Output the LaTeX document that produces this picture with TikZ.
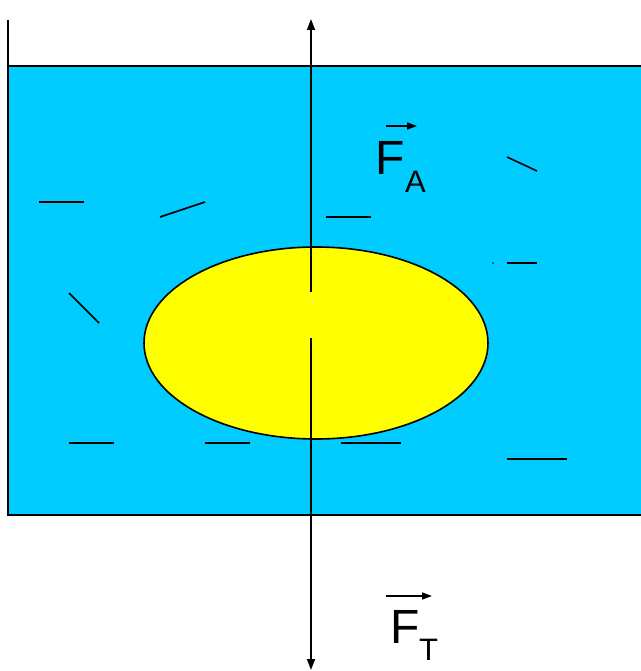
\documentclass[tikz,border=0pt]{standalone}
\usepackage{fontspec}
\setmainfont{Liberation Sans}
\usetikzlibrary{arrows.meta,shapes.geometric}
\definecolor{water}{HTML}{00CCFF}
\definecolor{body}{HTML}{FFFF00}
\begin{document}
\begin{tikzpicture}[x=1pt,y=-1pt,
  thin line/.style={line width=1.6pt},
  forcearrow/.style={line width=1.6pt,-{Triangle[length=11pt,width=8pt]}},
  vecarrow/.style={line width=1.6pt,-{Triangle[length=10pt,width=7pt]}},
  bigF/.style={inner sep=0pt,anchor=base west,font=\fontsize{48}{48}\selectfont},
  subl/.style={inner sep=0pt,anchor=base west,font=\fontsize{31}{31}\selectfont}]
\useasboundingbox (0,0) rectangle (640,671);
% water
\fill[water] (8,66) rectangle (641,515);
\draw[thin line] (8,20) -- (8,515) -- (641,515);
\draw[thin line] (8,66) -- (641,66);
% body
\node[draw,fill=body,ellipse,line width=1.6pt,minimum width=344pt,minimum height=192pt,inner sep=0pt] (body) at (316,343) {};
% dashes
\foreach \a/\b in {{39,202}/{84,202},{160,217}/{205,202},{326,217}/{371,217},{507,157}/{537,171},{507,263}/{537,263},{69,293}/{99,323},{69,443}/{114,443},{205,443}/{250,443},{341,443}/{401,443},{507,459}/{567,459}}
  \draw[line width=1.6pt] (\a) -- (\b);
\fill (493,263) circle (0.9pt);
% forces
\coordinate (up0) at (311,292);
\coordinate (up1) at (311,19);
\coordinate (dn0) at (311,338);
\coordinate (dn1) at (311,670);
\draw[forcearrow] (up0) -- (up1);
\draw[forcearrow] (dn0) -- (dn1);
% labels
\node[bigF] (FA) at (375,175) {F};
\node[subl] (FAs) at (405,193) {A};
\draw[vecarrow] (386,126) -- (417,126);
\node[bigF] (FT) at (390,643) {F};
\node[subl] (FTs) at (419,660) {T};
\draw[vecarrow] (386,596) -- (432,596);
\end{tikzpicture}
\end{document}
